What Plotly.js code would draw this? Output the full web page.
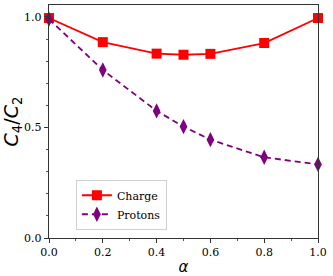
<!DOCTYPE html>
<html><head><meta charset="utf-8">
<script src="https://cdn.plot.ly/plotly-3.0.1.min.js"></script>
<style>html,body{margin:0;padding:0;background:#fff}#c{width:333px;height:276px}</style>
</head><body><div id="c"></div>
<script>
const alpha = [0.0, 0.2, 0.4, 0.5, 0.6, 0.8, 1.0];
const charge = [0.995, 0.886, 0.834, 0.829, 0.833, 0.882, 0.995];
const protons = [0.990, 0.760, 0.575, 0.504, 0.445, 0.365, 0.333];
const tickVals = [0.0, 0.2, 0.4, 0.6, 0.8, 1.0];
const tickText = ['0.0', '0.2', '0.4', '0.6', '0.8', '1.0'];
const yTickVals = [0.0, 0.5, 1.0];
const yTickText = ['0.0', '0.5', '1.0'];
const serif = "'DejaVu Serif', 'Liberation Serif', serif";

const traces = [
  {x: alpha, y: charge, name: 'Charge', type: 'scatter', mode: 'lines+markers',
   line: {color: '#ff0000', width: 1.8}, marker: {symbol: 'square', size: 10, color: '#ff0000'}, cliponaxis: false},
  {x: alpha, y: protons, name: 'Protons', type: 'scatter', mode: 'lines+markers',
   line: {color: '#800080', width: 1.8, dash: '6px,4px'}, marker: {symbol: 'diamond-tall', size: 11, color: '#800080'}, cliponaxis: false}
];
const layout = {
  width: 333, height: 276,
  margin: {l: 49, r: 15, t: 5, b: 38},
  paper_bgcolor: '#fff', plot_bgcolor: '#fff',
  font: {family: serif, size: 11, color: '#000'},
  showlegend: true,
  legend: {x: 0.1, y: 0.25, xanchor: 'left', yanchor: 'top', bgcolor: 'rgba(255,255,255,0.8)',
           bordercolor: '#d0d0d0', borderwidth: 1, font: {family: serif, size: 11}, tracegroupgap: 0,
           itemwidth: 30},
  xaxis: {range: [0, 1], tickvals: tickVals, ticktext: tickText, ticks: 'outside', ticklen: 4, tickcolor: '#333',
          tickfont: {family: serif, size: 11},
          showline: true, linecolor: '#333', linewidth: 1.2, mirror: true, showgrid: false, zeroline: false,
          minor: {dtick: 0.1, ticks: 'outside', ticklen: 2, tickcolor: '#555'},
          title: {text: '<i>α</i>', font: {family: 'DejaVu Sans', size: 15}, standoff: 3}},
  yaxis: {range: [0, 1.054], tickvals: yTickVals, ticktext: yTickText, ticks: 'outside', ticklen: 4, tickcolor: '#333',
          tickfont: {family: serif, size: 11},
          showline: true, linecolor: '#333', linewidth: 1.2, mirror: true, showgrid: false, zeroline: false,
          minor: {dtick: 0.1, ticks: 'outside', ticklen: 2, tickcolor: '#555'},
          title: {text: '<i>C</i><sub>4</sub>/<i>C</i><sub>2</sub>', font: {family: 'DejaVu Sans', size: 19}, standoff: 6}}
};
Plotly.newPlot('c', traces, layout, {displayModeBar: false, staticPlot: true});
</script></body></html>
